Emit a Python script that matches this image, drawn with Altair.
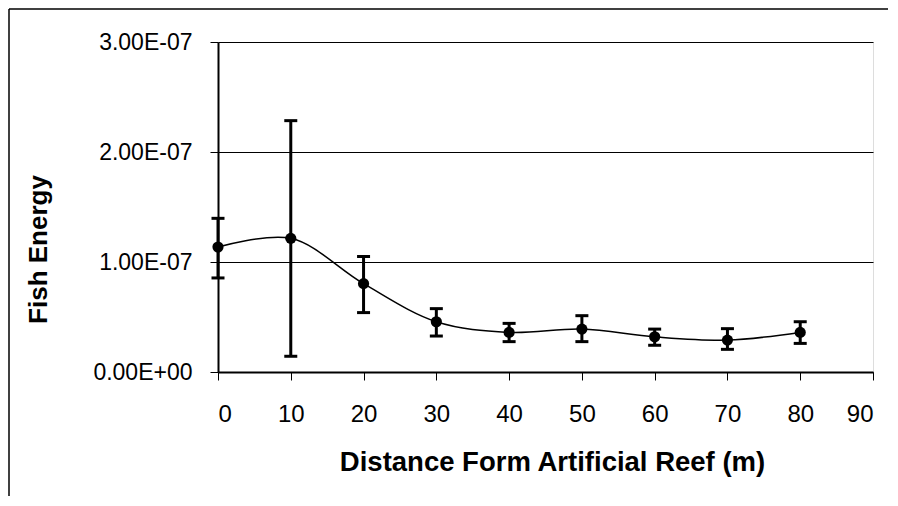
import altair as alt
import pandas as pd

# Data
distance = [0, 10, 20, 30, 40, 50, 60, 70, 80]
energy = [1.136e-7, 1.215e-7, 0.803e-7, 0.457e-7, 0.360e-7, 0.390e-7, 0.320e-7, 0.290e-7, 0.360e-7]
err_low = [0.855e-7, 0.143e-7, 0.540e-7, 0.327e-7, 0.276e-7, 0.276e-7, 0.243e-7, 0.206e-7, 0.260e-7]
err_high = [1.397e-7, 2.285e-7, 1.050e-7, 0.576e-7, 0.442e-7, 0.512e-7, 0.390e-7, 0.394e-7, 0.457e-7]

y_tick_values = [0, 1e-7, 2e-7, 3e-7]
y_tick_labels = ["0.00E+00", "1.00E-07", "2.00E-07", "3.00E-07"]
x_tick_values = [0, 10, 20, 30, 40, 50, 60, 70, 80, 90]

df = pd.DataFrame({"x": distance, "y": energy, "lo": err_low, "hi": err_high})

FONT = "Liberation Sans"
label_expr = "[" + ",".join(f"'{t}'" for t in y_tick_labels) + "][round(datum.value*1e7)]"

xscale = alt.Scale(domain=[0, 90], nice=False, zero=False)
yscale = alt.Scale(domain=[0, 3e-7], nice=False)

x_axis = alt.Axis(
    values=x_tick_values, grid=False, title="Distance Form Artificial Reef (m)",
    labelFont=FONT, labelFontSize=24, labelColor="black", labelBaseline="alphabetic",
    labelPadding=41, tickSize=8, tickColor="black", domainColor="black", domainWidth=2,
    titleFont=FONT, titleFontSize=27.5, titleFontWeight="bold", titleColor="black",
    titleX=334, titleY=98, titleBaseline="alphabetic", titleAlign="center",
)
y_axis = alt.Axis(
    values=y_tick_values, grid=True, gridColor="black", gridOpacity=1, gridWidth=1,
    labelExpr=label_expr, title="Fish Energy",
    labelFont=FONT, labelFontSize=23, labelColor="black", labelPadding=18,
    tickSize=8, tickColor="black", domainColor="black", domainWidth=2,
    titleFont=FONT, titleFontSize=26, titleFontWeight="bold", titleColor="black",
    titleX=-172, titleY=207, titleBaseline="alphabetic", titleAlign="center", titleAngle=270,
)

base = alt.Chart(df)

line = base.mark_line(interpolate="catmull-rom", color="black", strokeWidth=1.5).encode(
    x=alt.X("x:Q", scale=xscale, axis=x_axis),
    y=alt.Y("y:Q", scale=yscale, axis=y_axis),
)
bars = base.mark_rule(color="black", strokeWidth=3).encode(
    x=alt.X("x:Q", scale=xscale), y=alt.Y("lo:Q", scale=yscale), y2="hi:Q"
)
cap_hi = base.mark_tick(color="black", opacity=1, thickness=3, size=13, orient="horizontal").encode(
    x=alt.X("x:Q", scale=xscale), y=alt.Y("hi:Q", scale=yscale)
)
cap_lo = base.mark_tick(color="black", opacity=1, thickness=3, size=13, orient="horizontal").encode(
    x=alt.X("x:Q", scale=xscale), y=alt.Y("lo:Q", scale=yscale)
)
points = base.mark_circle(color="black", opacity=1, size=125).encode(
    x=alt.X("x:Q", scale=xscale), y=alt.Y("y:Q", scale=yscale)
)

border_df = pd.DataFrame({"k": [0]})
border_top = alt.Chart(border_df).mark_rule(color="black", strokeWidth=1.5).encode(
    x=alt.value(-209), x2=alt.value(672), y=alt.value(-33)
)
border_left = alt.Chart(border_df).mark_rule(color="black", strokeWidth=1.5).encode(
    x=alt.value(-209), y=alt.value(-33), y2=alt.value(460)
)

chart = alt.layer(line, bars, cap_hi, cap_lo, points, border_top, border_left).properties(
    width=655, height=330,
    autosize=alt.AutoSizeParams(type="none"),
    padding={"left": 210, "top": 34, "right": 15, "bottom": 124},
).configure_view(stroke="black", strokeWidth=1.5).configure(background="white")

chart.save("out.html", embed_options={"renderer": "svg", "actions": False})
